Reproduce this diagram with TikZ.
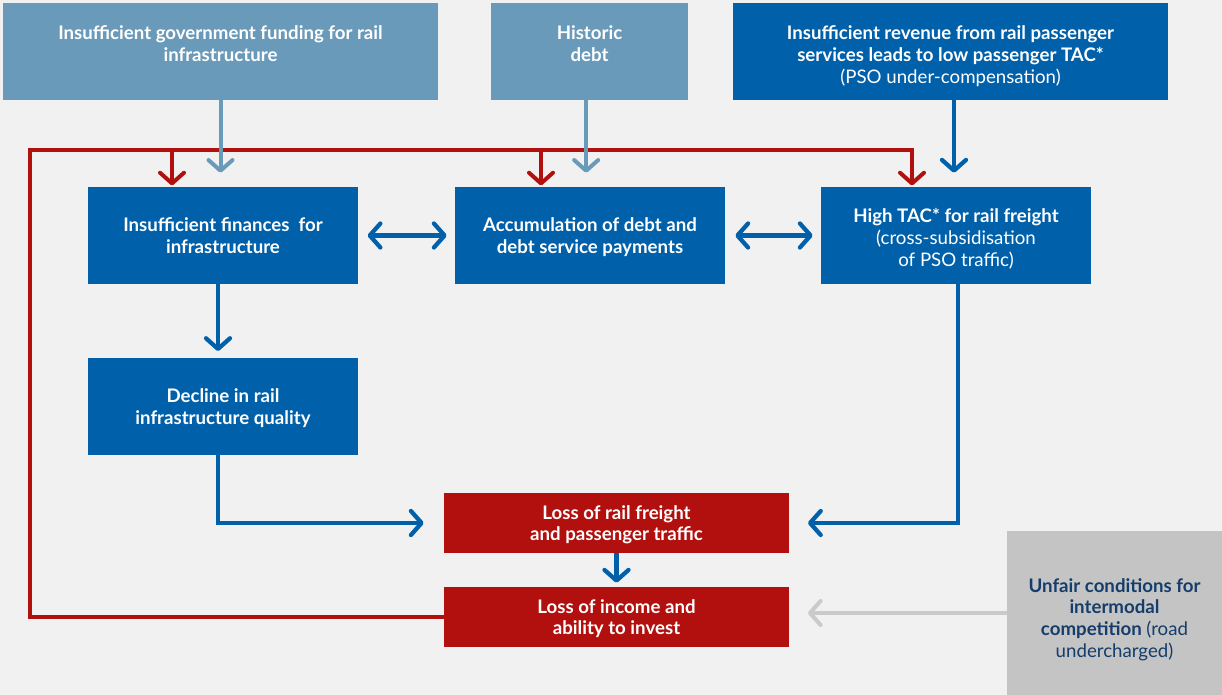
\documentclass[tikz,border=0pt]{standalone}
\usepackage{fontspec}
\setmainfont{Lato}
\usetikzlibrary{arrows.meta}
\definecolor{steel}{HTML}{6A9AB9}
\definecolor{rblue}{HTML}{0060AA}
\definecolor{rred}{HTML}{B2100E}
\definecolor{pale}{HTML}{C4C4C4}
\definecolor{paleline}{HTML}{CACACA}
\definecolor{navy}{HTML}{143D6B}
\definecolor{bg}{HTML}{F1F1F1}
\tikzset{
    >={Straight Barb[length=8pt,width=18pt,round]},
    box/.style={rectangle, inner sep=0pt, align=center, text=white, text depth=0pt,
        font=\bfseries\fontsize{14}{16.4}\selectfont},
    lightbox/.style={box, fill=steel},
    bluebox/.style={box, fill=rblue},
    redbox/.style={box, fill=rred},
    greybox/.style={box, fill=pale, text=navy},
    wide/.style={minimum width=326.25pt, minimum height=72.75pt},
    mid/.style={minimum width=202.5pt, minimum height=72.75pt},
    flat/.style={minimum width=258.75pt, minimum height=45pt},
    lbarrow/.style={draw=steel, line width=3pt, ->},
    bluearrow/.style={draw=rblue, line width=3.2pt, ->},
    redarrow/.style={draw=rred, line width=3pt, ->},
    greyarrow/.style={draw=paleline, line width=3pt, ->},
}
\begin{document}
\begin{tikzpicture}[x=0.75pt, y=-0.75pt]
\fill[bg] (0,0) rectangle (1222,695);
\useasboundingbox (0,0) rectangle (1222,695);

% causes
\node[lightbox, wide, text height=47.5pt] (govfund) at (220.5,51.5) {Insufficient government funding for rail\\infrastructure\\\strut};
\node[lightbox, minimum width=147.75pt, minimum height=72.75pt, text height=47.5pt] (debt) at (589.5,51.5) {Historic\\debt\\\strut};
\node[bluebox, wide, text height=47.5pt] (revenue) at (950.5,51.5) {Insufficient revenue from rail passenger\\services leads to low passenger TAC*\\{\mdseries (PSO under-compensation)}};

% middle row
\node[bluebox, mid] (finances) at (223,235.5) {Insufficient finances\ \ for\\infrastructure};
\node[bluebox, mid] (accum) at (590,235.5) {Accumulation of debt and\\debt service payments};
\node[bluebox, mid, text height=46pt] (tac) at (956,235.5) {High TAC* for rail freight\\{\mdseries (cross-subsidisation}\\{\mdseries of PSO traffic)}};
\node[bluebox, mid] (decline) at (223,406.5) {Decline in rail\\infrastructure quality};

% effects
\node[redbox, flat] (freight) at (616.5,523) {Loss of rail freight\\and passenger traffic};
\node[redbox, flat] (income) at (616.5,617) {Loss of income and\\ability to invest};
\node[greybox, minimum width=161.25pt, minimum height=123pt, text height=67pt] (unfair) at (1114.5,613) {Unfair conditions for\\intermodal\\competition {\mdseries (road}\\{\mdseries undercharged)}};

% feedback loop
\coordinate (loop) at (30,150);
\coordinate (fin-in) at ([xshift=-38.25pt]finances.north);
\coordinate (acc-in) at ([xshift=-36.75pt]accum.north);
\coordinate (tac-in) at ([xshift=-33pt]tac.north);
\draw[redarrow, shorten >=1pt] (income.west) -| (loop) -| (tac-in);
\draw[redarrow, shorten >=1pt] (fin-in |- loop) -- (fin-in);
\draw[redarrow, shorten >=1pt] (acc-in |- loop) -- (acc-in);

% top arrows
\draw[lbarrow, shorten >=10.5pt] (govfund.south) -- (govfund.south |- finances.north);
\draw[lbarrow, shorten >=10.5pt] ([xshift=-2.5pt]debt.south) -- ([xshift=-2.5pt]debt.south |- accum.north);
\draw[bluearrow, shorten >=10.5pt] ([xshift=-1.5pt]tac.north |- revenue.south) -- ([xshift=-1.5pt]tac.north);

\draw[bluearrow, <->, shorten <=7pt, shorten >=6pt] (finances.east) -- (accum.west);
\draw[bluearrow, <->, shorten <=7.5pt, shorten >=6pt] (accum.east) -- (tac.west);
\draw[bluearrow, shorten >=5pt] ([xshift=-3.75pt]finances.south) -- ([xshift=-3.75pt]decline.north);
\draw[bluearrow, shorten >=15pt] ([xshift=-3.75pt]decline.south) |- (freight.west);
\draw[bluearrow, shorten >=14pt] ([xshift=1.5pt]tac.south) |- (freight.east);
\draw[bluearrow, shorten >=3pt] (freight.south) -- (income.north);
\draw[greyarrow, shorten >=14pt] (unfair.west) -- (unfair.west -| income.east);
\end{tikzpicture}
\end{document}
